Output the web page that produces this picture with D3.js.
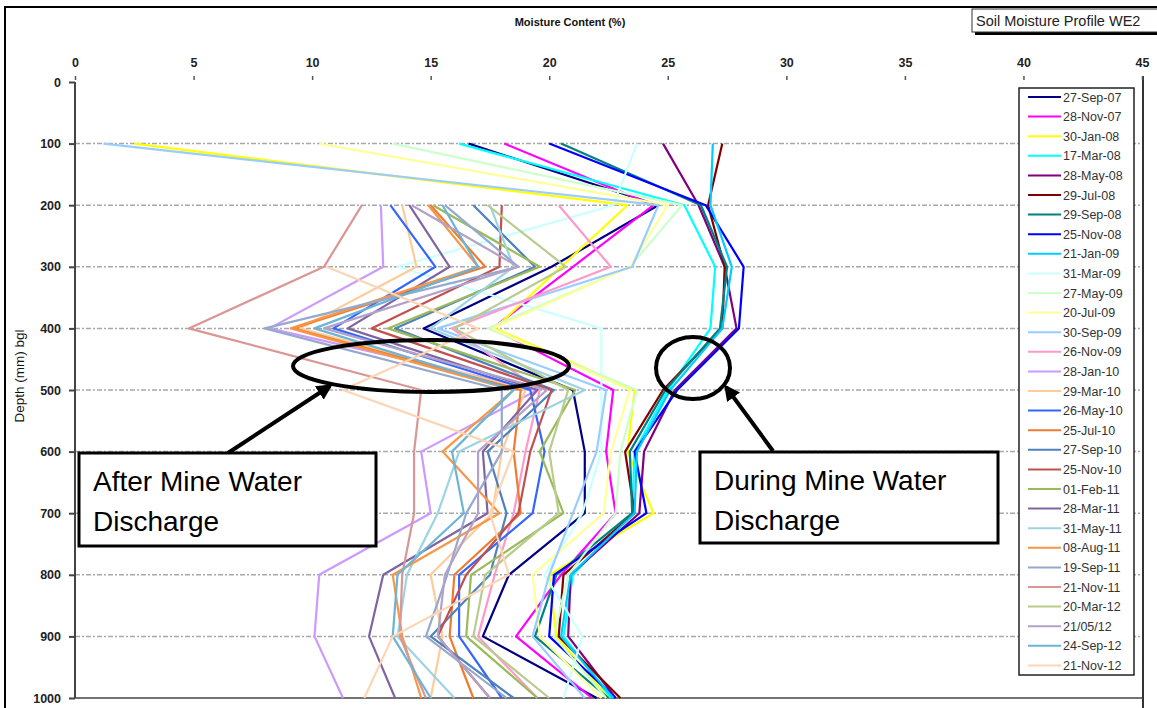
<!DOCTYPE html>
<html><head><meta charset="utf-8">
<script src="https://cdn.jsdelivr.net/npm/d3@7"></script>
<style>body{margin:0;background:#fff;} svg{display:block;font-family:Arial,"Liberation Sans",sans-serif;}</style>
</head><body>
<script>
// ---- data ----
const depths = [100,200,300,400,500,600,700,800,900,1000];
const xTicks = [0,5,10,15,20,25,30,35,40,45];
const yTicks = [0,100,200,300,400,500,600,700,800,900,1000];
const seriesNames = ["27-Sep-07","28-Nov-07","30-Jan-08","17-Mar-08","28-May-08","29-Jul-08","29-Sep-08","25-Nov-08","21-Jan-09","31-Mar-09","27-May-09","20-Jul-09","30-Sep-09","26-Nov-09","28-Jan-10","29-Mar-10","26-May-10","25-Jul-10","27-Sep-10","25-Nov-10","01-Feb-11","28-Mar-11","31-May-11","08-Aug-11","19-Sep-11","21-Nov-11","20-Mar-12","21/05/12","24-Sep-12","21-Nov-12"];
const s27Sep07 = [16.6,24.6,20.1,14.7,21.0,21.5,21.5,18.3,17.2,22.0];
const s28Nov07 = [18.1,24.4,21.0,17.6,22.7,22.4,22.8,20.5,18.6,21.8];
const s30Jan08 = [2.5,23.3,20.5,17.7,23.6,23.3,24.4,20.0,20.3,22.5];
const s17Mar08 = [16.2,25.7,27.0,26.8,25.0,23.6,23.5,21.0,20.6,22.6];
const s28May08 = [24.8,26.3,27.4,27.9,25.3,24.0,23.8,20.9,20.8,22.8];
const s29Jul08 = [27.3,26.7,27.4,27.3,24.8,23.2,23.6,20.6,20.4,23.0];
const s29Sep08 = [20.5,26.4,27.5,27.2,24.9,23.4,23.5,20.3,19.4,22.5];
const s25Nov08 = [20.0,26.6,28.2,28.0,25.4,23.6,24.1,20.2,20.0,22.8];
const s21Jan09 = [26.9,26.8,27.7,27.3,25.1,23.7,23.6,20.9,20.5,22.7];
const s31Mar09 = [23.7,22.7,13.6,22.2,22.2,22.2,21.4,19.8,21.4,20.6];
const s27May09 = [13.4,25.6,23.4,17.4,23.7,23.0,22.8,20.8,20.2,22.4];
const s20Jul09 = [10.3,25.0,23.4,17.6,23.4,22.6,22.3,19.3,19.6,22.2];
const s30Sep09 = [1.2,24.6,23.5,15.3,22.4,22.0,21.0,20.0,19.3,21.5];
const s26Nov09 = [null,20.4,22.6,15.9,19.6,19.0,18.5,17.7,17.0,19.5];
const s28Jan10 = [null,12.9,13.0,8.2,19.5,14.6,15.0,10.3,10.1,11.3];
const s29Mar10 = [null,13.8,14.4,9.5,19.0,18.0,17.6,15.0,15.5,15.0];
const s26May10 = [null,13.3,15.2,10.9,19.2,19.8,19.3,16.2,16.2,18.0];
const s25Jul10 = [null,15.0,17.3,9.2,18.8,18.5,18.8,16.0,15.8,16.8];
const s27Sep10 = [null,16.8,19.4,13.5,20.2,17.4,18.2,17.5,15.0,18.5];
const s25Nov10 = [null,18.0,17.9,12.5,20.1,19.2,18.7,16.5,15.3,17.5];
const s01Feb11 = [null,15.1,19.6,13.2,21.1,19.6,20.6,16.7,16.5,19.5];
const s28Mar11 = [null,14.1,15.8,11.5,19.5,17.2,17.4,13.0,12.4,13.5];
const s31May11 = [null,17.5,18.5,15.0,21.5,16.2,15.3,14.0,13.6,16.0];
const s08Aug11 = [null,14.9,17.0,9.1,18.5,15.5,17.9,13.4,13.8,14.6];
const s19Sep11 = [null,15.6,18.7,8.0,18.0,18.0,16.5,15.7,14.8,18.2];
const s21Nov11 = [null,12.1,10.5,4.8,14.6,14.3,14.3,13.8,13.7,14.8];
const s20Mar12 = [null,17.4,20.7,16.0,20.8,20.0,20.4,17.3,16.8,20.0];
const s21May12 = [null,14.2,18.7,10.5,19.9,17.0,17.0,15.6,15.3,17.5];
const s24Sep12 = [null,15.5,17.0,10.1,18.5,15.9,16.4,13.6,13.4,15.0];
const s21Nov12 = [null,null,10.6,17.0,11.3,18.5,17.5,18.3,13.4,12.2];
const seriesValues = [s27Sep07,s28Nov07,s30Jan08,s17Mar08,s28May08,s29Jul08,s29Sep08,s25Nov08,s21Jan09,s31Mar09,s27May09,s20Jul09,s30Sep09,s26Nov09,s28Jan10,s29Mar10,s26May10,s25Jul10,s27Sep10,s25Nov10,s01Feb11,s28Mar11,s31May11,s08Aug11,s19Sep11,s21Nov11,s20Mar12,s21May12,s24Sep12,s21Nov12];

// ---- styles ----
const palette = ["#000080","#FF00FF","#FFFF00","#00FFFF","#800080","#800000","#008080","#0000FF","#00CCFF","#CCFFFF","#CCFFCC","#FFFF99","#99CCFF","#FF99CC","#CC99FF","#FFCC99","#3366FF","#EE7B30","#4F81BD","#C0504D","#9BBB59","#8064A2","#9DD3E3","#F79646","#95A9CF","#D99694","#B7CC8E","#B3A2C7","#6CB4D6","#FCD5B5"];

const W = 1157, H = 708;
const svg = d3.select("body").append("svg").attr("width", W).attr("height", H);

// outer frame
svg.append("rect").attr("x",5).attr("y",7).attr("width",W).attr("height",H)
  .attr("fill","none").attr("stroke","#000").attr("stroke-width",2);

const x = d3.scaleLinear().domain([0,45]).range([75,1142]);
const y = d3.scaleLinear().domain([0,1000]).range([82,698]);

// gridlines
svg.append("g").selectAll("line").data(yTicks.filter(d=>d>0 && d<1000)).join("line")
  .attr("x1",x(0)).attr("x2",x(45)).attr("y1",d=>y(d)).attr("y2",d=>y(d))
  .attr("stroke","#a8a8a8").attr("stroke-width",1.5).attr("stroke-dasharray","5,2,2,2");

// bottom & right borders
svg.append("line").attr("x1",x(0)).attr("x2",x(45)).attr("y1",y(1000)).attr("y2",y(1000)).attr("stroke","#444").attr("stroke-width",1.5);
svg.append("line").attr("x1",x(45)+1).attr("x2",x(45)+1).attr("y1",76).attr("y2",H).attr("stroke","#333").attr("stroke-width",2);

// top axis
const gx = svg.append("g").attr("transform","translate(0,80)")
  .call(d3.axisTop(x).tickValues(xTicks).tickFormat(d3.format("d")).tickSize(4).tickPadding(9));
gx.select(".domain").remove();
gx.selectAll(".tick line").attr("stroke","#555").attr("stroke-width",1.5);
gx.selectAll(".tick text").attr("font-size",12.5).attr("font-weight","bold").attr("fill","#222").attr("font-family","Arial, Liberation Sans");

// left axis
const gy = svg.append("g").attr("transform",`translate(${x(0)},0)`)
  .call(d3.axisLeft(y).tickValues(yTicks).tickFormat(d3.format("d")).tickSize(6).tickPadding(5));
gy.select(".domain").attr("stroke","#444").attr("stroke-width",2).attr("d",`M0,${y(0)}V${y(1000)}`);
gy.selectAll(".tick line").attr("stroke","#444").attr("stroke-width",2);
gy.selectAll(".tick text").attr("font-size",12.5).attr("font-weight","bold").attr("fill","#222").attr("font-family","Arial, Liberation Sans").attr("dx",-3);

// axis titles
svg.append("text").attr("x",570).attr("y",26).attr("text-anchor","middle")
  .attr("font-size",11).attr("font-weight","bold").attr("fill","#111").text("Moisture Content (%)");
svg.append("text").attr("transform","translate(24,376) rotate(-90)").attr("text-anchor","middle")
  .attr("font-size",13.5).attr("fill","#111").text("Depth (mm) bgl");

// series lines
const line = d3.line().defined(d=>d.v!==null).x(d=>x(d.v)).y(d=>y(d.d));
const series = seriesNames.map((n,i)=>({name:n, color:palette[i], pts:depths.map((d,j)=>({d, v:seriesValues[i][j]}))}));
svg.append("g").selectAll("path").data(series).join("path")
  .attr("d",s=>line(s.pts)).attr("fill","none").attr("stroke",s=>s.color)
  .attr("stroke-width",2.2).attr("stroke-linejoin","round");

// legend
const lg = svg.append("g");
lg.append("rect").attr("x",1019).attr("y",88).attr("width",115).attr("height",587)
  .attr("fill","#fff").attr("stroke","#222").attr("stroke-width",1.5);
const li = lg.selectAll("g.it").data(series).join("g").attr("class","it")
  .attr("transform",(s,i)=>`translate(0,${97+i*19.6})`);
li.append("line").attr("x1",1028).attr("x2",1061).attr("stroke",s=>s.color).attr("stroke-width",2);
li.append("text").attr("x",1063).attr("y",4.5).attr("font-size",12.5).attr("fill","#333").text(s=>s.name);

// title box
svg.append("rect").attr("x",975).attr("y",12).attr("width",190).attr("height",23).attr("fill","#000");
svg.append("rect").attr("x",972).attr("y",9).attr("width",190).attr("height",23).attr("fill","#fff").attr("stroke","#333").attr("stroke-width",1);
svg.append("text").attr("x",976).attr("y",26).attr("font-size",14.5).attr("fill","#222").text("Soil Moisture Profile WE2");

// annotations
const ann = svg.append("g");
ann.append("ellipse").attr("cx",431).attr("cy",366).attr("rx",138).attr("ry",26)
  .attr("fill","none").attr("stroke","#000").attr("stroke-width",4);
ann.append("ellipse").attr("cx",693).attr("cy",368).attr("rx",37).attr("ry",31)
  .attr("fill","none").attr("stroke","#000").attr("stroke-width",4);
svg.append("defs").append("marker").attr("id","ah").attr("viewBox","0 0 10 10").attr("refX",8).attr("refY",5)
  .attr("markerWidth",4).attr("markerHeight",4).attr("orient","auto")
  .append("path").attr("d","M0,0L10,5L0,10z").attr("fill","#000");
ann.append("line").attr("x1",228).attr("y1",453).attr("x2",330).attr("y2",386)
  .attr("stroke","#000").attr("stroke-width",4).attr("marker-end","url(#ah)");
ann.append("line").attr("x1",773).attr("y1",451).attr("x2",726).attr("y2",387)
  .attr("stroke","#000").attr("stroke-width",4).attr("marker-end","url(#ah)");

function box(x0,y0,w,h,lines){
  ann.append("rect").attr("x",x0).attr("y",y0).attr("width",w).attr("height",h)
    .attr("fill","#fff").attr("stroke","#000").attr("stroke-width",3);
  lines.forEach((t,i)=>ann.append("text").attr("x",x0+14).attr("y",y0+38+i*40)
    .attr("font-size",28).attr("fill","#000").text(t));
}
box(79,453,297,93,["After Mine Water","Discharge"]);
box(700,452,298,91,["During Mine Water","Discharge"]);
</script>
</body></html>
